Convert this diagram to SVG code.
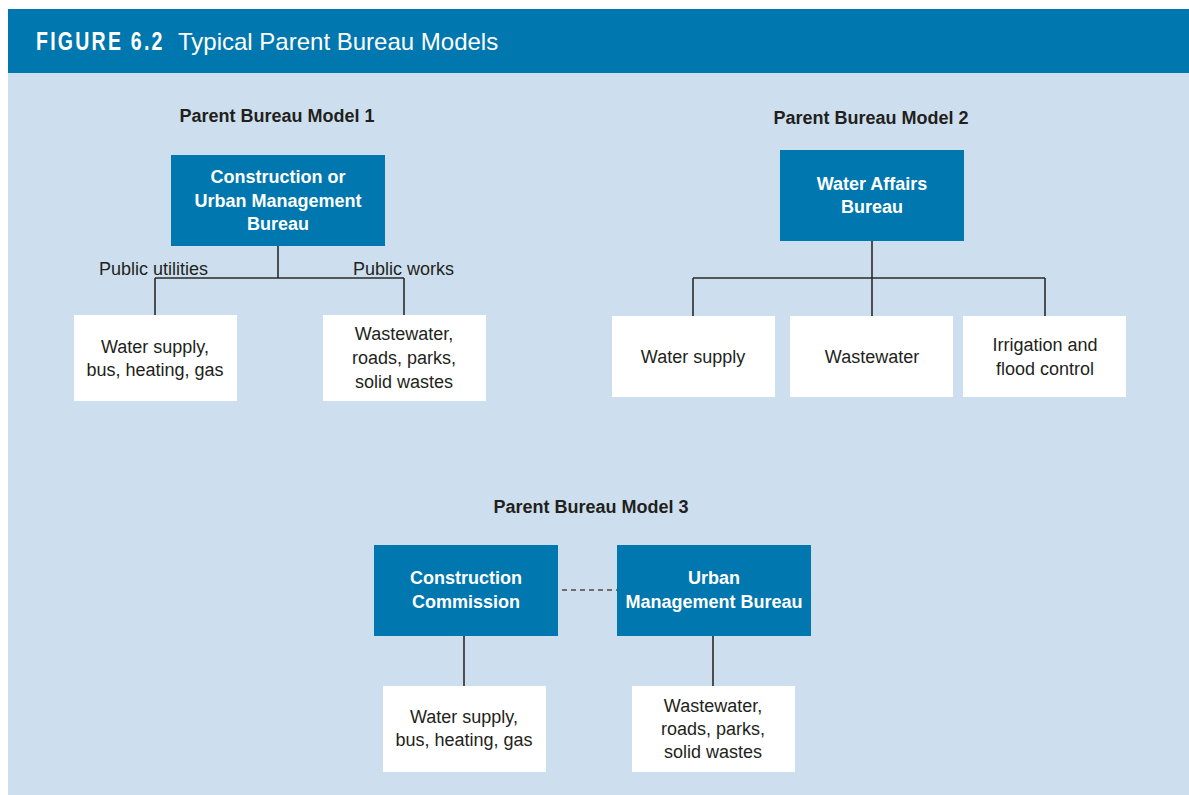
<svg xmlns="http://www.w3.org/2000/svg" width="1189" height="795" viewBox="0 0 1189 795">
  <style>
    .band { fill: #0077ae; }
    .panel { fill: #cddfee; }
    .boss { fill: #0077ae; }
    .unit { fill: #ffffff; }
    .link { stroke: #2b2b2b; stroke-width: 1.6; fill: none; }
    .dash { stroke: #4a4a4a; stroke-width: 1.6; fill: none; stroke-dasharray: 5 4; }
    text { font-family: "Liberation Sans", Arial, sans-serif; }
    .hd { font-size: 18px; font-weight: bold; fill: #231f20; text-anchor: middle; }
    .bt { font-size: 18px; font-weight: bold; fill: #ffffff; text-anchor: middle; }
    .wt { font-size: 18px; fill: #231f20; text-anchor: middle; }
    .lb { font-size: 18px; fill: #231f20; }
  </style>

  <!-- page background and title band -->
  <rect x="0" y="0" width="1189" height="795" fill="#ffffff"/>
  <rect class="panel" x="8" y="73" width="1181" height="722"/>
  <rect class="band" x="8" y="9" width="1181" height="64"/>
  <text transform="translate(36,50) scale(0.75,1)" font-size="26" font-weight="bold" letter-spacing="3" fill="#ffffff">FIGURE 6.2</text>
  <text x="178" y="50" font-size="24" fill="#ffffff">Typical Parent Bureau Models</text>

  <!-- section headings -->
  <text class="hd" x="277" y="122">Parent Bureau Model 1</text>
  <text class="hd" x="871" y="124">Parent Bureau Model 2</text>
  <text class="hd" x="591" y="513">Parent Bureau Model 3</text>

  <!-- connectors -->
  <g id="connectors">
    <path class="link" d="M278 246 V278 M155 278 H404 M155 278 V315 M404 278 V315"/>
    <path class="link" d="M872 241 V278 M693 278 H1045 M693 278 V316 M872 278 V316 M1045 278 V316"/>
    <path class="dash" d="M562 590 H617"/>
    <path class="link" d="M464 636 V686 M713 636 V686"/>
    <text class="lb" x="99" y="275">Public utilities</text>
    <text class="lb" x="353" y="275">Public works</text>
  </g>

  <!-- Model 1 -->
  <g id="m1-bureau">
    <rect class="boss" x="171" y="155" width="214" height="91"/>
    <text class="bt" x="278" y="183">Construction or</text>
    <text class="bt" x="278" y="207">Urban Management</text>
    <text class="bt" x="278" y="230">Bureau</text>
  </g>
  <g id="m1-utilities">
    <rect class="unit" x="74" y="315" width="163" height="86"/>
    <text class="wt" x="155" y="353">Water supply,</text>
    <text class="wt" x="155" y="376">bus, heating, gas</text>
  </g>
  <g id="m1-works">
    <rect class="unit" x="323" y="315" width="163" height="86"/>
    <text class="wt" x="404" y="340">Wastewater,</text>
    <text class="wt" x="404" y="364">roads, parks,</text>
    <text class="wt" x="404" y="388">solid wastes</text>
  </g>

  <!-- Model 2 -->
  <g id="m2-bureau">
    <rect class="boss" x="780" y="150" width="184" height="91"/>
    <text class="bt" x="872" y="190">Water Affairs</text>
    <text class="bt" x="872" y="213">Bureau</text>
  </g>
  <g id="m2-water">
    <rect class="unit" x="612" y="316" width="163" height="81"/>
    <text class="wt" x="693" y="363">Water supply</text>
  </g>
  <g id="m2-wastewater">
    <rect class="unit" x="790" y="316" width="163" height="81"/>
    <text class="wt" x="872" y="363">Wastewater</text>
  </g>
  <g id="m2-irrigation">
    <rect class="unit" x="963" y="316" width="163" height="81"/>
    <text class="wt" x="1045" y="351">Irrigation and</text>
    <text class="wt" x="1045" y="375">flood control</text>
  </g>

  <!-- Model 3 -->
  <g id="m3-commission">
    <rect class="boss" x="374" y="545" width="184" height="91"/>
    <text class="bt" x="466" y="584">Construction</text>
    <text class="bt" x="466" y="608">Commission</text>
  </g>
  <g id="m3-bureau">
    <rect class="boss" x="617" y="545" width="194" height="91"/>
    <text class="bt" x="714" y="584">Urban</text>
    <text class="bt" x="714" y="608">Management Bureau</text>
  </g>
  <g id="m3-utilities">
    <rect class="unit" x="383" y="686" width="163" height="86"/>
    <text class="wt" x="464" y="723">Water supply,</text>
    <text class="wt" x="464" y="746">bus, heating, gas</text>
  </g>
  <g id="m3-works">
    <rect class="unit" x="632" y="686" width="163" height="86"/>
    <text class="wt" x="713" y="712">Wastewater,</text>
    <text class="wt" x="713" y="735">roads, parks,</text>
    <text class="wt" x="713" y="758">solid wastes</text>
  </g>
</svg>
